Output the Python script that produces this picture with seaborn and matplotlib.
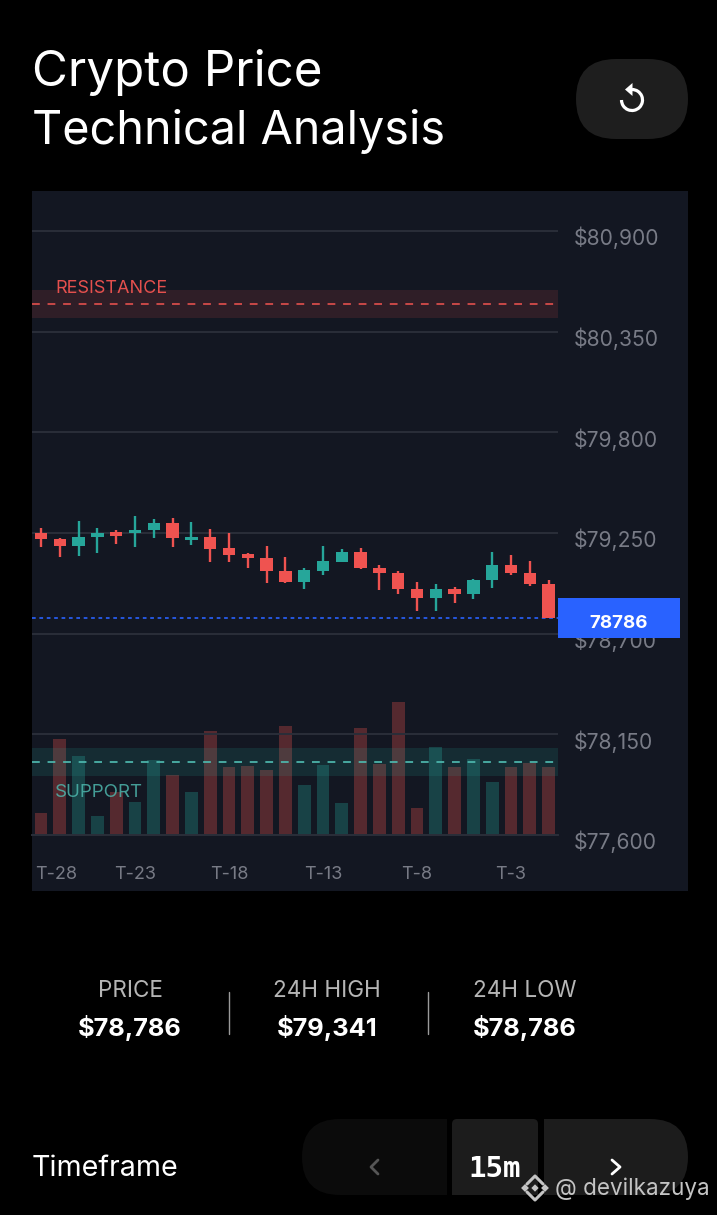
import pandas as pd
import matplotlib
matplotlib.use("Agg")
import matplotlib.pyplot as plt
import matplotlib.transforms as mtrans
from matplotlib.patches import Arc, FancyBboxPatch, Polygon, Rectangle
import seaborn as sns

# candle data
steps = list(range(28))
opens = [79250, 79216, 79177, 79227, 79254, 79250, 79266, 79303, 79212, 79228,
         79166, 79134, 79113, 79044, 78981, 79044, 79092, 79148, 79059, 79032,
         78944, 78895, 78946, 78918, 78993, 79074, 79030, 78971]
closes = [79217, 79177, 79227, 79252, 79235, 79266, 79303, 79224, 79230, 79164,
          79132, 79115, 79044, 78981, 79048, 79095, 79146, 79057, 79030, 78944,
          78895, 78946, 78917, 78993, 79074, 79030, 78970, 78786]
highs = [79276, 79224, 79317, 79277, 79265, 79343, 79328, 79334, 79310, 79270,
         79252, 79141, 79181, 79119, 79057, 79177, 79161, 79170, 79074, 79044,
         78984, 78971, 78953, 78999, 79146, 79132, 79097, 78993]
lows = [79175, 79117, 79126, 79142, 79192, 79174, 79224, 79174, 79184, 79090,
        79090, 79060, 78979, 78979, 78942, 79019, 79090, 79053, 78939, 78917,
        78824, 78825, 78868, 78888, 78951, 79022, 78960, 78786]
volumes = [22, 96, 79, 19, 43, 33, 75, 60, 43, 104, 68, 69, 65, 109,
           50, 70, 32, 107, 71, 133, 27, 88, 68, 76, 53, 68, 72, 68]

price_ticks = [77600, 78150, 78700, 79250, 79800, 80350, 80900]
price_labels = ["$77,600", "$78,150", "$78,700", "$79,250", "$79,800", "$80,350", "$80,900"]
time_ticks = [0, 5, 10, 15, 20, 25]
time_labels = ["T-28", "T-23", "T-18", "T-13", "T-8", "T-3"]

resistance = 80500
resistance_band = (80425, 80578)
support = 78000
support_band = (77922, 78075)
last_price = 78786

stat_names = ["PRICE", "24H HIGH", "24H LOW"]
stat_values = ["$78,786", "$79,341", "$78,786"]

RED = "#ef5350"
TEAL = "#26a69a"
PANEL = "#131722"
GRID = "#2a2e39"
MUTED = "#787b86"
BLUE = "#2962ff"

sns.set_theme(style="dark")
plt.rcParams["font.family"] = ["Inter", "DejaVu Sans"]

W, H = 717, 1215
fig = plt.figure(figsize=(W / 100, H / 100), dpi=100, facecolor="black")


def pixel_axes(z):
    a = fig.add_axes([0, 0, 1, 1], zorder=z)
    a.set_xlim(0, W)
    a.set_ylim(H, 0)
    a.axis("off")
    return a


def rounded(a, x0, y0, x1, y1, r, color):
    a.add_patch(FancyBboxPatch((x0 + r, y0 + r), x1 - x0 - 2 * r, y1 - y0 - 2 * r,
                               boxstyle=f"round,pad={r},rounding_size={r}",
                               fc=color, ec="none"))


# page behind the chart
bg = pixel_axes(0)
bg.text(32, 72, "Crypto Price", color="white", fontsize=35.5, va="center", ha="left")
bg.text(32, 132, "Technical Analysis", color="white", fontsize=33.7, va="center", ha="left")
bg.add_patch(Rectangle((32, 191), 656, 700, fc=PANEL, ec="none"))

# refresh button
rounded(bg, 576, 59, 688, 139, 40, "#1e1e1e")
bg.add_patch(Arc((632, 100), 21, 21, theta1=-90, theta2=180, color="white", lw=2.3))
bg.add_patch(Polygon([(625, 89.5), (632.5, 83), (632.5, 96)], fc="white", ec="none"))

# stats row
for cx, name, value in zip([130, 327, 525], stat_names, stat_values):
    bg.text(cx, 991, name, color="#b5b5b5", fontsize=16.2, ha="center", va="center")
    bg.text(cx, 1028, value, color="white", fontsize=18.3, fontweight="bold", ha="center", va="center")
for dx in [229, 428]:
    bg.plot([dx, dx], [992, 1034], color="#9a9a9a", lw=1)

# timeframe row
bg.text(32, 1168, "Timeframe", color="white", fontsize=20.6, ha="left", va="center")
rounded(bg, 302, 1119, 420, 1195, 38, "#0b0b0b")
bg.add_patch(Rectangle((350, 1119), 97, 76, fc="#0b0b0b", ec="none"))
rounded(bg, 452, 1119, 538, 1195, 5, "#1c1c1c")
bg.add_patch(Rectangle((452, 1180), 86, 15, fc="#1c1c1c", ec="none"))
rounded(bg, 570, 1119, 688, 1195, 38, "#1c1c1c")
bg.add_patch(Rectangle((544, 1119), 90, 76, fc="#1c1c1c", ec="none"))
bg.plot([378, 371, 378], [1160, 1167, 1174], color="#555555", lw=2, solid_capstyle="round")
bg.plot([612, 620, 612], [1160, 1167, 1174], color="white", lw=2, solid_capstyle="round")
bg.text(495, 1169, "15m", color="white", fontsize=21, fontweight="bold",
        family="DejaVu Sans Mono", ha="center", va="center")

# chart: plot area is x 32-558, y 191-835 in the picture
rect = [32 / W, 1 - 835 / H, 526 / W, 644 / H]
ax = fig.add_axes(rect, zorder=2)
ax_vol = ax.twinx()
ax.set_zorder(ax_vol.get_zorder() + 1)
ax.patch.set_visible(False)
ax_vol.patch.set_visible(False)

vol_df = pd.DataFrame({
    "step": steps,
    "volume": volumes,
    "dir": ["up" if c >= o else "down" for o, c in zip(opens, closes)],
})
sns.barplot(data=vol_df, x="step", y="volume", hue="dir", palette={"up": TEAL, "down": RED},
            dodge=False, native_scale=True, width=0.68, alpha=0.3, saturation=1,
            legend=False, linewidth=0, edgecolor="none", ax=ax_vol)
ax_vol.set_ylim(0, 644)
ax_vol.set_yticks([])
ax_vol.set_ylabel("")
ax_vol.set_xlabel("")

ax.axhspan(*resistance_band, color=RED, alpha=0.13, lw=0)
ax.axhspan(*support_band, color=TEAL, alpha=0.15, lw=0)
ax.axhline(resistance, color=RED, alpha=0.8, lw=1.4, dashes=(4, 4))
ax.axhline(support, color="#4db6ac", alpha=0.9, lw=1.4, dashes=(4, 4))
ax.axhline(last_price, color=BLUE, alpha=0.85, lw=1.4, dashes=(1.9, 1.9))

for s, o, c, hi, lo in zip(steps, opens, closes, highs, lows):
    col = TEAL if c >= o else RED
    ax.vlines(s, lo, hi, color=col, lw=1.7, zorder=4)
    ax.bar(s, abs(c - o), bottom=min(o, c), width=0.66, color=col, linewidth=0, zorder=4)

ax.text(0.75, 80588, "RESISTANCE", color=RED, alpha=0.95, fontsize=13, va="center")
ax.text(0.75, 77830, "SUPPORT", color="#4db6ac", alpha=0.85, fontsize=13.5, va="center")

ax.set_xlim(-0.48, 27.5)
ax_vol.set_xlim(-0.48, 27.5)
ax.set_ylim(77600, 81118.6)
ax.yaxis.tick_right()
ax.set_yticks(price_ticks)
ax.set_yticklabels(price_labels, color=MUTED, fontsize=15.2)
ax.set_xticks(time_ticks)
ax.set_xticklabels(time_labels, color=MUTED, fontsize=13)
ax.tick_params(axis="y", length=0, pad=11.5)
ax.tick_params(axis="x", length=0, pad=22)
ax_vol.tick_params(axis="x", length=0, labelbottom=False)
ax.grid(axis="y", color=GRID, lw=1.4)
ax.grid(axis="x", visible=False)
for name in ["top", "left", "right"]:
    ax.spines[name].set_visible(False)
    ax_vol.spines[name].set_visible(False)
ax.spines["bottom"].set_color(GRID)
ax.spines["bottom"].set_linewidth(1.4)
ax_vol.spines["bottom"].set_visible(False)

# price labels sit a little under their gridline, first time label is pushed inside
down = mtrans.ScaledTranslation(0, -5 / 100, fig.dpi_scale_trans)
for lbl in ax.get_yticklabels():
    lbl.set_transform(lbl.get_transform() + down)
first = ax.get_xticklabels()[0]
first.set_transform(first.get_transform() + mtrans.ScaledTranslation(15 / 100, 0, fig.dpi_scale_trans))

# things on top of the chart
top = pixel_axes(5)
top.add_patch(Rectangle((558, 598), 122, 40, fc=BLUE, ec="none"))
top.text(619, 624, str(last_price), color="white", fontsize=13.5, fontweight="bold", ha="center", va="center")

# watermark
WM = "#c4c4c4"
top.scatter([525, 545, 535], [1188, 1188, 1188], marker="D", s=[16, 16, 14], color=WM, lw=0)
top.plot([527, 535, 543], [1184, 1176, 1184], color=WM, lw=2.2)
top.plot([527, 535, 543], [1192, 1200, 1192], color=WM, lw=2.2)
top.text(555, 1189, "@ devilkazuya", color=WM, fontsize=16.2, ha="left", va="center")

fig.savefig("out.png", dpi=100, facecolor="black")
